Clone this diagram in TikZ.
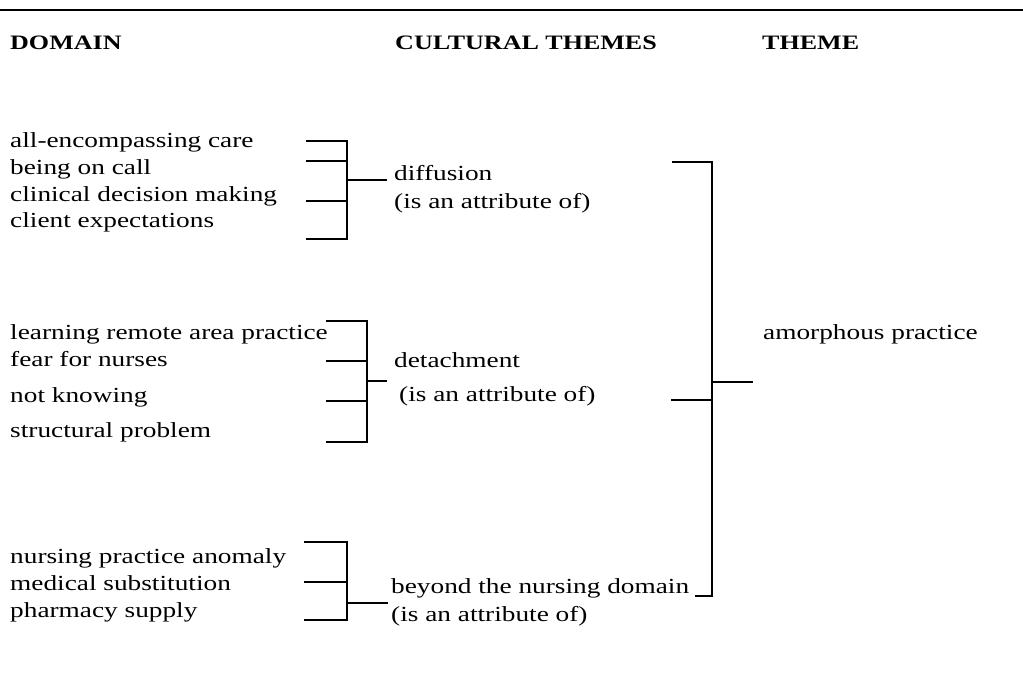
\documentclass[tikz,border=0pt]{standalone}
\usepackage{fontspec}
\setmainfont{Liberation Serif}[FakeStretch=1.27]
\begin{document}
\begin{tikzpicture}[x=1pt,y=-1pt,
  body/.style={anchor=base west, inner sep=0pt, font=\fontsize{21.5}{26}\selectfont},
  head/.style={anchor=base west, inner sep=0pt, font=\fontsize{20.5}{26}\selectfont\bfseries},
  brk/.style={line width=2pt, line cap=rect, line join=miter},
  rulestyle/.style={line width=2pt}]
\useasboundingbox (0,0) rectangle (1023,692);

% top rule
\coordinate (ruleL) at (0,10);
\coordinate (ruleR) at (1023,10);
\draw[rulestyle] (ruleL) -- (ruleR);

% column headings
\node[head] (hDomain) at (10,50) {DOMAIN};
\node[head] (hCult)   at (395,50) {CULTURAL THEMES};
\node[head] (hTheme)  at (762,50) {THEME};

% domains, first group
\node[body] (d11) at (10,148) {all-encompassing care};
\node[body] (d12) at (10,175) {being on call};
\node[body] (d13) at (10,201.5) {clinical decision making};
\node[body] (d14) at (10,228) {client expectations};
\node[body] (c1a) at (394,181) {diffusion};
\node[body] (c1b) at (394,209) {(is an attribute of)};

% domains, second group
\node[body] (d21) at (10,340) {learning remote area practice};
\node[body] (d22) at (10,367) {fear for nurses};
\node[body] (d23) at (10,403) {not knowing};
\node[body] (d24) at (10,438) {structural problem};
\node[body] (c2a) at (394,368) {detachment};
\node[body] (c2b) at (399,402) {(is an attribute of)};

% domains, third group
\node[body] (d31) at (10,563) {nursing practice anomaly};
\node[body] (d32) at (10,590) {medical substitution};
\node[body] (d33) at (10,617) {pharmacy supply};
\node[body] (c3a) at (391,593) {beyond the nursing domain};
\node[body] (c3b) at (391,621) {(is an attribute of)};

% theme
\node[body] (th) at (763,340) {amorphous practice};

% bracket of the first group
\coordinate (b1t)  at (347,141);
\coordinate (b1b)  at (347,239);
\coordinate (b1tL) at (307,141);
\coordinate (b1bL) at (307,239);
\coordinate (b12L) at (307,161);
\coordinate (b12R) at (347,161);
\coordinate (b13L) at (307,201);
\coordinate (b13R) at (347,201);
\coordinate (b1s)  at (347,180);
\coordinate (b1e)  at (386,180);
\draw[brk] (b1tL) -- (b1t) -- (b1b) -- (b1bL);
\draw[brk] (b12L) -- (b12R);
\draw[brk] (b13L) -- (b13R);
\draw[brk] (b1s) -- (b1e);

% bracket of the second group
\coordinate (b2t)  at (367,321);
\coordinate (b2b)  at (367,442);
\coordinate (b2tL) at (327,321);
\coordinate (b2bL) at (327,442);
\coordinate (b22L) at (327,361);
\coordinate (b22R) at (367,361);
\coordinate (b23L) at (327,401);
\coordinate (b23R) at (367,401);
\coordinate (b2s)  at (367,381);
\coordinate (b2e)  at (386,381);
\draw[brk] (b2tL) -- (b2t) -- (b2b) -- (b2bL);
\draw[brk] (b22L) -- (b22R);
\draw[brk] (b23L) -- (b23R);
\draw[brk] (b2s) -- (b2e);

% bracket of the third group
\coordinate (b3t)  at (347,542);
\coordinate (b3b)  at (347,620);
\coordinate (b3tL) at (305,542);
\coordinate (b3bL) at (305,620);
\coordinate (b32L) at (305,582);
\coordinate (b32R) at (347,582);
\coordinate (b3s)  at (347,603);
\coordinate (b3e)  at (387,603);
\draw[brk] (b3tL) -- (b3t) -- (b3b) -- (b3bL);
\draw[brk] (b32L) -- (b32R);
\draw[brk] (b3s) -- (b3e);

% large bracket joining the cultural themes
\coordinate (BtL) at (673,162);
\coordinate (Bt)  at (712,162);
\coordinate (Bb)  at (712,596);
\coordinate (BbL) at (696,596);
\coordinate (BmL) at (672,400);
\coordinate (BmR) at (712,400);
\coordinate (Bs)  at (712,382);
\coordinate (Be)  at (752,382);
\draw[brk] (BtL) -- (Bt) -- (Bb) -- (BbL);
\draw[brk] (BmL) -- (BmR);
\draw[brk] (Bs) -- (Be);
\end{tikzpicture}
\end{document}
